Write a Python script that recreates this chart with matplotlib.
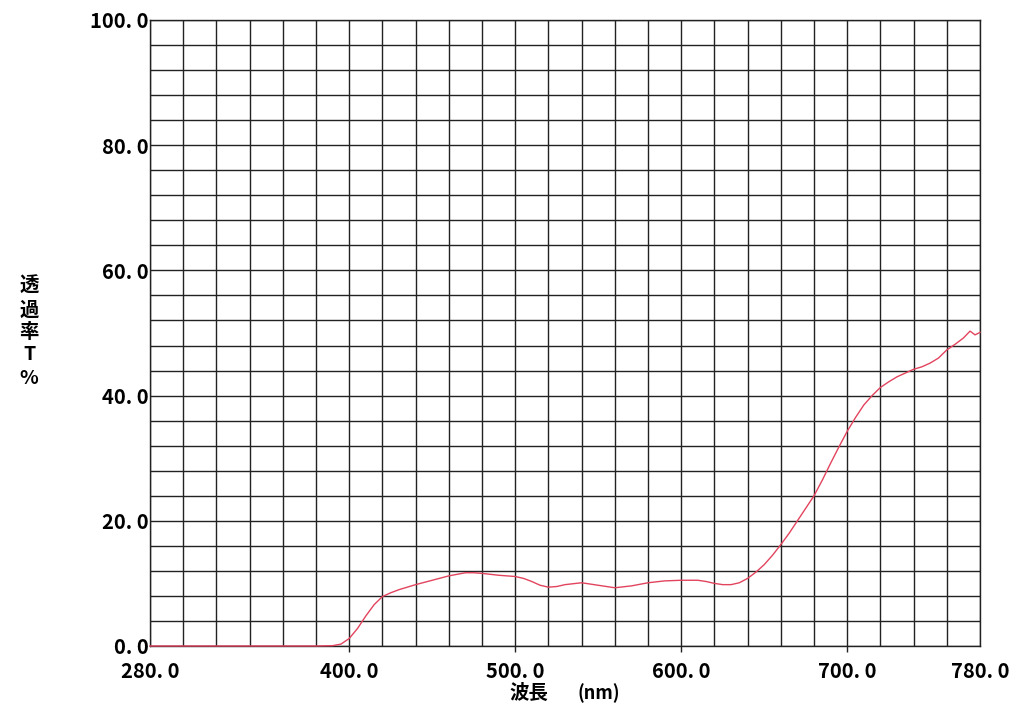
import matplotlib
matplotlib.use("Agg")
import matplotlib.pyplot as plt
import numpy as np

plt.rcParams['font.family'] = ['Noto Sans CJK JP', 'DejaVu Sans']

wavelength = [280, 300, 320, 340, 360, 380, 390, 395, 400, 405, 410, 415, 420, 425,
              430, 440, 450, 460, 470, 475, 480, 490, 500, 505, 510, 515, 520, 525,
              530, 540, 550, 560, 570, 580, 590, 600, 610, 615, 620, 625, 630, 635,
              640, 645, 650, 655, 660, 665, 670, 675, 680, 685, 690, 695, 700, 705,
              710, 715, 720, 725, 730, 735, 740, 745, 750, 755, 760, 765, 770, 774,
              777, 780]
transmittance = [0, 0, 0, 0, 0, 0, 0.05, 0.3, 1.2, 2.8, 4.8, 6.6, 7.9, 8.5,
                 9.0, 9.8, 10.5, 11.2, 11.7, 11.7, 11.6, 11.3, 11.1, 10.8, 10.3, 9.7, 9.4, 9.5,
                 9.8, 10.1, 9.7, 9.3, 9.6, 10.1, 10.4, 10.5, 10.5, 10.3, 10.0, 9.8, 9.8, 10.1,
                 10.8, 11.8, 13.0, 14.5, 16.2, 18.0, 20.0, 22.0, 24.0, 26.5, 29.2, 31.8, 34.3, 36.5,
                 38.5, 40.0, 41.3, 42.2, 43.0, 43.6, 44.2, 44.6, 45.2, 46.0, 47.3, 48.2, 49.2, 50.3,
                 49.7, 50.1]

x_ticks = [280, 400, 500, 600, 700, 780]
x_tick_labels = ["280. 0", "400. 0", "500. 0", "600. 0", "700. 0", "780. 0"]
y_ticks = [0, 20, 40, 60, 80, 100]
y_tick_labels = ["0. 0", "20. 0", "40. 0", "60. 0", "80. 0", "100. 0"]
y_label_chars = ["透", "過", "率", "T", "%"]

fig = plt.figure(figsize=(10.29, 7.04), dpi=100)
ax = fig.add_axes([0.1458, 0.0824, 0.9524 - 0.1458, 0.9716 - 0.0824])

ax.set_xlim(280, 780)
ax.set_ylim(0, 100)

grid_color = '#222222'
for gx in np.arange(280, 781, 20):
    ax.axvline(gx, color=grid_color, lw=1.0, zorder=1)
for gy in np.arange(0, 101, 4):
    ax.axhline(gy, color=grid_color, lw=1.0, zorder=1)

ax.plot(wavelength, transmittance, color='#e2445e', lw=1.0, zorder=5, clip_on=False)

for s in ax.spines.values():
    s.set_color(grid_color)
    s.set_linewidth(1.0)
    s.set_zorder(2)

ax.set_xticks(x_ticks)
ax.set_xticklabels(x_tick_labels, fontsize=14.5, fontweight='semibold')
ax.set_yticks(y_ticks)
ax.set_yticklabels(y_tick_labels, fontsize=14.5, fontweight='semibold')
ax.tick_params(axis='y', length=0, pad=1)
ax.tick_params(axis='x', length=4, width=1, color=grid_color, pad=7)
xt = ax.xaxis.get_major_ticks()
xt[0].tick1line.set_visible(False)
xt[-1].tick1line.set_visible(False)

# vertical stacked y-label
label_px_y = [286, 310, 333, 355, 378]
for ch, py in zip(y_label_chars, label_px_y):
    fig.text(29 / 1029, 1 - py / 704, ch, fontsize=14,
             fontweight='bold', ha='center', va='center')

fig.text(529 / 1029, 1 - 693 / 704, "波長", fontsize=14, fontweight='bold',
         ha='center', va='center')
fig.text(599 / 1029, 1 - 693 / 704, "(nm)", fontsize=13, fontweight='semibold',
         ha='center', va='center')

fig.savefig("out.png", dpi=100)
